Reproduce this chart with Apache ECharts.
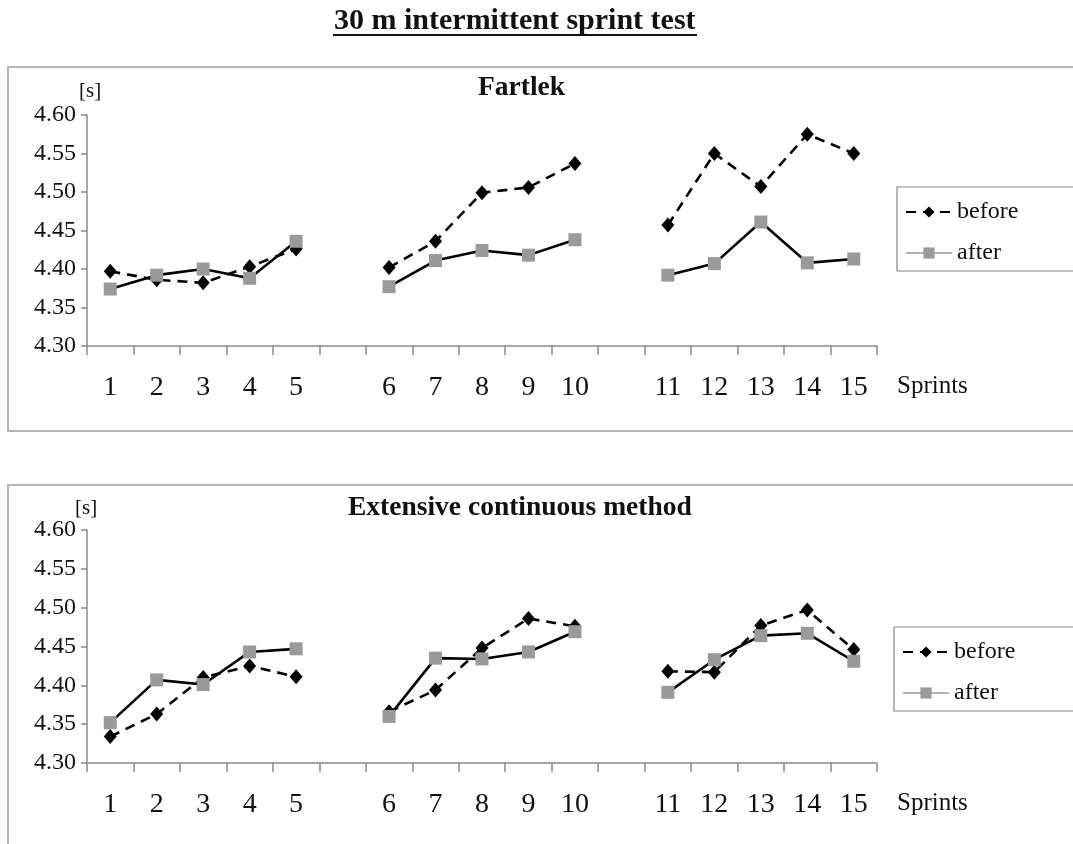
<!DOCTYPE html>
<html>
<head>
<meta charset="utf-8">
<script src="https://cdn.jsdelivr.net/npm/echarts@6/dist/echarts.min.js"></script>
<style>
html,body{margin:0;padding:0;background:#fff;}
#chart{width:1073px;height:844px;}
</style>
</head>
<body>
<div id="chart"></div>
<script>
// ---- data ----
const sprintLabels = ['1','2','3','4','5','','6','7','8','9','10','','11','12','13','14','15'];
const fartlekBefore = [4.397,4.386,4.382,4.403,4.426,null,4.402,4.436,4.499,4.506,4.537,null,4.457,4.550,4.507,4.575,4.550];
const fartlekAfter  = [4.374,4.392,4.400,4.388,4.436,null,4.377,4.411,4.424,4.418,4.438,null,4.392,4.407,4.461,4.408,4.413];
const extBefore     = [4.334,4.363,4.410,4.425,4.411,null,4.366,4.394,4.448,4.486,4.476,null,4.418,4.417,4.477,4.497,4.446];
const extAfter      = [4.352,4.407,4.401,4.443,4.447,null,4.360,4.435,4.434,4.443,4.469,null,4.391,4.433,4.464,4.467,4.431];
const yMin = 4.30, yMax = 4.60, yStep = 0.05;
const seriesNames = ['before','after'];
const mainTitle = '30 m intermittent sprint test';
const panelTitles = ['Fartlek','Extensive continuous method'];

// ---- styles ----
const FONT = '"Liberation Serif", "Times New Roman", serif';
const TXT = '#111';
const AXIS = '#8a8a8a';
const GRAY = '#9a9a9a';

const chart = echarts.init(document.getElementById('chart'));

function xAxisFor(gi){
  return {
    type:'category', gridIndex:gi, data:sprintLabels, boundaryGap:true,
    axisLine:{show:true,lineStyle:{color:AXIS,width:1.5}},
    axisTick:{show:true,interval:0,length:9,lineStyle:{color:AXIS,width:1.5}},
    axisLabel:{interval:0,margin:28,fontFamily:FONT,fontSize:28,color:TXT},
    splitLine:{show:false}
  };
}
function yAxisFor(gi){
  return {
    type:'value', gridIndex:gi, min:yMin, max:yMax, interval:yStep,
    axisLine:{show:true,lineStyle:{color:AXIS,width:1.5}},
    axisTick:{show:true,length:6,lineStyle:{color:AXIS,width:1.5}},
    axisLabel:{margin:11,fontFamily:FONT,fontSize:24,color:TXT,formatter:v=>v.toFixed(2)},
    splitLine:{show:false}
  };
}
function beforeSeries(gi,data){
  return {
    name:seriesNames[0], type:'line', xAxisIndex:gi, yAxisIndex:gi, data:data,
    connectNulls:false, symbol:'diamond', symbolSize:[13,15],
    lineStyle:{color:'#000',width:2.6,type:[10,7]},
    itemStyle:{color:'#000'}, z:2, animation:false
  };
}
function afterSeries(gi,data){
  return {
    name:seriesNames[1], type:'line', xAxisIndex:gi, yAxisIndex:gi, data:data,
    connectNulls:false, symbol:'rect', symbolSize:13,
    lineStyle:{color:'#000',width:2.6},
    itemStyle:{color:GRAY}, z:3, animation:false
  };
}
function legendFor(left,top){
  return {
    orient:'vertical', left:left, top:top,
    padding:[13,70,6,8], itemGap:17, itemWidth:46, itemHeight:14,
    borderColor:'#888', borderWidth:1.2, selectedMode:false,
    textStyle:{fontFamily:FONT,fontSize:24,color:TXT},
    data:[
      {name:seriesNames[0]},
      {name:seriesNames[1], lineStyle:{color:GRAY,width:1.5}}
    ]
  };
}
function txt(text,left,top,size,bold){
  return {
    text:text, left:left, top:top, padding:0,
    textStyle:{fontFamily:FONT,fontSize:size,fontWeight:bold?'bold':'normal',color:TXT}
  };
}

const option = {
  backgroundColor:'#fff',
  animation:false,
  title:[
    txt(mainTitle,334,6,30,true),
    txt(panelTitles[0],478,74,27.5,true),
    txt(panelTitles[1],348,494,27.5,true),
    txt('[s]',79,81,21,false),
    txt('[s]',75,498,21,false),
    txt('Sprints',897,374,25,false),
    txt('Sprints',897,791,25,false)
  ],
  graphic:[
    {type:'rect',shape:{x:8,y:67,width:1090,height:364},style:{fill:'none',stroke:'#b5b5b5',lineWidth:2},silent:true},
    {type:'rect',shape:{x:8,y:485,width:1090,height:420},style:{fill:'none',stroke:'#b5b5b5',lineWidth:2},silent:true},
    {type:'line',shape:{x1:333,y1:35,x2:697,y2:35},style:{stroke:'#111',lineWidth:2},silent:true}
  ],
  legend:[legendFor(897,187),legendFor(894,627)],
  grid:[
    {left:87,top:115,width:790,height:231,containLabel:false},
    {left:87,top:530,width:790,height:233,containLabel:false}
  ],
  xAxis:[xAxisFor(0),xAxisFor(1)],
  yAxis:[yAxisFor(0),yAxisFor(1)],
  series:[
    beforeSeries(0,fartlekBefore),
    afterSeries(0,fartlekAfter),
    beforeSeries(1,extBefore),
    afterSeries(1,extAfter)
  ]
};
chart.setOption(option);
</script>
</body>
</html>
